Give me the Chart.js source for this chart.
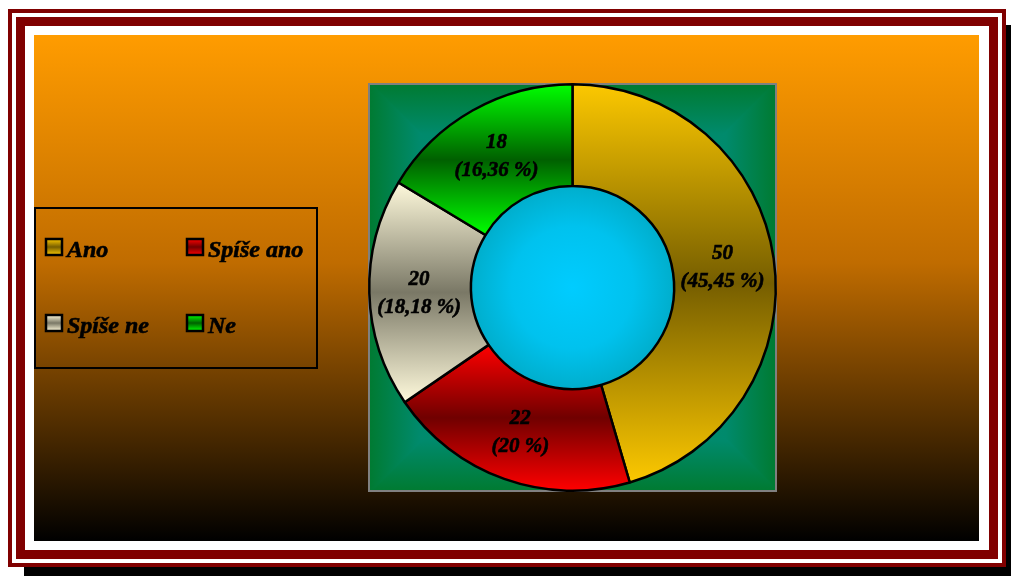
<!DOCTYPE html>
<html>
<head>
<meta charset="utf-8">
<script src="https://cdn.jsdelivr.net/npm/chart.js@4/dist/chart.umd.min.js"></script>
<style>
  html, body { margin: 0; padding: 0; background: #ffffff; }
  canvas { display: block; }
</style>
</head>
<body>
<canvas id="c" width="1011" height="576"></canvas>
<script>
// ---- data ----
const categories = ['Ano', 'Spíše ano', 'Spíše ne', 'Ne'];
const values = [50, 22, 20, 18];

// ---- styles ----
const edgeColors = ['#fcc800', '#ff0000', '#fffadc', '#00ff00'];
const midColors = ['#765e00', '#700000', '#7a7866', '#006000'];
const FONT = '"Liberation Serif", "Times New Roman", serif';

function arcBox(cx, cy, r0, r1, a0, a1) {
  const pts = [];
  [a0, a1].forEach(a => [r0, r1].forEach(r => pts.push([cx + r * Math.cos(a), cy + r * Math.sin(a)])));
  const q = Math.PI / 2;
  for (let k = Math.ceil(a0 / q); k * q <= a1; k++) {
    const a = k * q;
    pts.push([cx + r1 * Math.cos(a), cy + r1 * Math.sin(a)]);
  }
  const ys = pts.map(p => p[1]);
  return { top: Math.min(...ys), bottom: Math.max(...ys) };
}

function vGrad(ctx, top, bottom, i) {
  const g = ctx.createLinearGradient(0, top, 0, bottom);
  g.addColorStop(0, edgeColors[i]);
  g.addColorStop(0.5, midColors[i]);
  g.addColorStop(1, edgeColors[i]);
  return g;
}

function pctText(v, total) {
  let s = (Math.round(v / total * 10000) / 100).toString();
  return '(' + s.replace('.', ',') + ' %)';
}

function boldText(ctx, txt, x, y) {
  ctx.fillText(txt, x, y);
  ctx.strokeText(txt, x, y);
}

const framePlugin = {
  id: 'frame',
  beforeDraw(chart) {
    const ctx = chart.ctx;
    const W = chart.width, H = chart.height;
    ctx.save();
    ctx.fillStyle = '#ffffff';
    ctx.fillRect(0, 0, W, H);
    // shadow
    ctx.fillStyle = '#000000';
    ctx.fillRect(24, 25, W - 24, H - 25);
    // frames
    ctx.fillStyle = '#800000';
    ctx.fillRect(8, 9, 998, 558);
    ctx.fillStyle = '#ffffff';
    ctx.fillRect(12, 13, 990, 550);
    ctx.fillStyle = '#800000';
    ctx.fillRect(16, 17, 982, 542);
    ctx.fillStyle = '#ffffff';
    ctx.fillRect(25, 26, 964, 524);
    // background gradient
    const bg = ctx.createLinearGradient(0, 35, 0, 541);
    bg.addColorStop(0, '#ff9c00');
    bg.addColorStop(0.45, '#c06c00');
    bg.addColorStop(1, '#000000');
    ctx.fillStyle = bg;
    ctx.fillRect(34, 35, 945, 506);

    // plot area (rectangular "from center" gradient)
    const a = chart.chartArea;
    const cx = (a.left + a.right) / 2, cy = (a.top + a.bottom) / 2;
    const d = 3;
    const sides = [
      { poly: [[a.left - d, a.top], [a.right + d, a.top], [cx, cy + d]], g: [cx, a.top, cx, cy] },
      { poly: [[a.right, a.top - d], [a.right, a.bottom + d], [cx - d, cy]], g: [a.right, cy, cx, cy] },
      { poly: [[a.right + d, a.bottom], [a.left - d, a.bottom], [cx, cy - d]], g: [cx, a.bottom, cx, cy] },
      { poly: [[a.left, a.bottom + d], [a.left, a.top - d], [cx + d, cy]], g: [a.left, cy, cx, cy] }
    ];
    ctx.save();
    ctx.beginPath();
    ctx.rect(a.left, a.top, a.right - a.left, a.bottom - a.top);
    ctx.clip();
    sides.forEach(s => {
      ctx.save();
      ctx.beginPath();
      ctx.moveTo(s.poly[0][0], s.poly[0][1]);
      ctx.lineTo(s.poly[1][0], s.poly[1][1]);
      ctx.lineTo(s.poly[2][0], s.poly[2][1]);
      ctx.closePath();
      const g = ctx.createLinearGradient(s.g[0], s.g[1], s.g[2], s.g[3]);
      g.addColorStop(0, '#007a30');
      g.addColorStop(0.25, '#008a6c');
      g.addColorStop(1, '#00947e');
      ctx.fillStyle = g;
      ctx.fill();
      ctx.restore();
    });
    ctx.restore();
    ctx.strokeStyle = '#808080';
    ctx.lineWidth = 2;
    ctx.strokeRect(a.left + 1, a.top + 1, a.right - a.left - 2, a.bottom - a.top - 2);
    ctx.restore();
  },
  beforeDatasetsDraw(chart) {
    const ctx = chart.ctx;
    const meta = chart.getDatasetMeta(0);
    meta.data.forEach((arc, i) => {
      const b = arcBox(arc.x, arc.y, arc.innerRadius, arc.outerRadius, arc.startAngle, arc.endAngle);
      arc.options = Object.assign({}, arc.options, { backgroundColor: vGrad(ctx, b.top, b.bottom, i) });
    });
    // hole
    const arc0 = meta.data[0];
    const r = arc0.innerRadius;
    ctx.save();
    const g = ctx.createRadialGradient(arc0.x, arc0.y, 0, arc0.x, arc0.y, r);
    g.addColorStop(0, '#00ccff');
    g.addColorStop(0.6, '#00c2ee');
    g.addColorStop(1, '#00aecc');
    ctx.fillStyle = g;
    ctx.beginPath();
    ctx.arc(arc0.x, arc0.y, r, 0, Math.PI * 2);
    ctx.fill();
    ctx.restore();
  },
  afterDatasetsDraw(chart) {
    const ctx = chart.ctx;
    const meta = chart.getDatasetMeta(0);
    const total = values.reduce((s, v) => s + v, 0);
    ctx.save();
    ctx.fillStyle = '#000000';
    ctx.strokeStyle = '#000000';
    ctx.lineWidth = 0.6;
    ctx.font = 'bold italic 21px ' + FONT;
    ctx.textAlign = 'center';
    ctx.textBaseline = 'middle';
    meta.data.forEach((arc, i) => {
      const p = arc.getCenterPoint();
      boldText(ctx, String(values[i]), p.x - 1, p.y - 12);
      boldText(ctx, pctText(values[i], total), p.x - 1, p.y + 16);
    });
    ctx.restore();
  },
  afterDraw(chart) {
    const ctx = chart.ctx;
    ctx.save();
    // legend box
    ctx.strokeStyle = '#000000';
    ctx.lineWidth = 2;
    ctx.strokeRect(35, 208, 282, 160);
    const cols = [46, 187];
    const rows = [257, 333];
    ctx.font = 'bold italic 24px ' + FONT;
    ctx.textAlign = 'left';
    ctx.textBaseline = 'alphabetic';
    categories.forEach((name, i) => {
      const x = cols[i % 2], base = rows[Math.floor(i / 2)];
      const top = base - 18, h = 16;
      ctx.fillStyle = vGrad(ctx, top, top + h, i);
      ctx.fillRect(x, top, 16, h);
      ctx.lineWidth = 2.5;
      ctx.strokeStyle = '#000000';
      ctx.strokeRect(x, top, 16, h);
      ctx.fillStyle = '#000000';
      ctx.lineWidth = 0.6;
      boldText(ctx, name, x + 21, base);
    });
    ctx.restore();
  }
};

new Chart(document.getElementById('c'), {
  type: 'doughnut',
  data: {
    labels: categories,
    datasets: [{
      data: values,
      backgroundColor: edgeColors,
      borderColor: '#000000',
      borderWidth: 2.5,
      borderAlign: 'center'
    }]
  },
  options: {
    responsive: false,
    animation: false,
    devicePixelRatio: 1,
    cutout: '50%',
    layout: { padding: { left: 368, top: 83, right: 234, bottom: 84 } },
    plugins: {
      legend: { display: false },
      tooltip: { enabled: false }
    }
  },
  plugins: [framePlugin]
});
</script>
</body>
</html>
